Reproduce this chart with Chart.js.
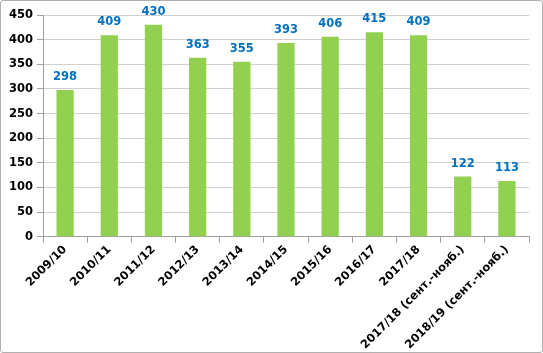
<!DOCTYPE html>
<html>
<head>
<meta charset="utf-8">
<script src="https://cdn.jsdelivr.net/npm/chart.js@4"></script>
<style>
  html, body { margin: 0; padding: 0; background: #fff; }
  #wrap { width: 541px; height: 351px; border: 1px solid #b0b0b0; border-radius: 3px; }
</style>
</head>
<body>
<div id="wrap"><canvas id="chart" width="541" height="351"></canvas></div>
<script>
// seasons
const labels = ['2009/10', '2010/11', '2011/12', '2012/13', '2013/14', '2014/15',
                '2015/16', '2016/17', '2017/18', '2017/18 (сент.-нояб.)', '2018/19 (сент.-нояб.)'];
const values = [298, 409, 430, 363, 355, 393, 406, 415, 409, 122, 113];
const yMin = 0, yMax = 450, yStep = 50;

// value labels over the bars
const barLabels = {
    id: 'barLabels',
    afterDatasetsDraw(chart) {
        const ctx = chart.ctx;
        const meta = chart.getDatasetMeta(0);
        ctx.save();
        ctx.font = 'bold 11.5px "DejaVu Sans"';
        ctx.fillStyle = '#0070C0';
        ctx.textAlign = 'center';
        ctx.textBaseline = 'bottom';
        meta.data.forEach(function(bar, i) {
            ctx.fillText(values[i], bar.x, bar.y - 7);
        });
        ctx.restore();
    }
};

const ctx = document.getElementById('chart').getContext('2d');
new Chart(ctx, {
    type: 'bar',
    data: {
        labels: labels,
        datasets: [{
            data: values,
            backgroundColor: '#92D050',
            borderWidth: 0,
            barPercentage: 0.39,
            categoryPercentage: 1
        }]
    },
    options: {
        responsive: false,
        animation: false,
        layout: { padding: { top: 14, right: 13, left: 4, bottom: 0 } },
        plugins: {
            legend: { display: false },
            tooltip: { enabled: false }
        },
        scales: {
            x: {
                grid: {
                    offset: true,
                    drawOnChartArea: false,
                    color: '#a0a0a0',
                    tickLength: 6
                },
                border: { color: '#a0a0a0' },
                ticks: {
                    color: '#000',
                    font: { family: '"DejaVu Sans"', size: 11.5, weight: 'bold' },
                    minRotation: 45,
                    maxRotation: 45,
                    autoSkip: false,
                    padding: 0
                }
            },
            y: {
                min: yMin,
                max: yMax,
                grid: {
                    color: '#d0d0d0',
                    tickColor: '#a0a0a0',
                    tickLength: 6
                },
                border: { color: '#a0a0a0' },
                ticks: {
                    stepSize: yStep,
                    color: '#000',
                    font: { family: '"DejaVu Sans"', size: 11.5, weight: 'bold' },
                    padding: 4
                }
            }
        }
    },
    plugins: [barLabels]
});
</script>
</body>
</html>
